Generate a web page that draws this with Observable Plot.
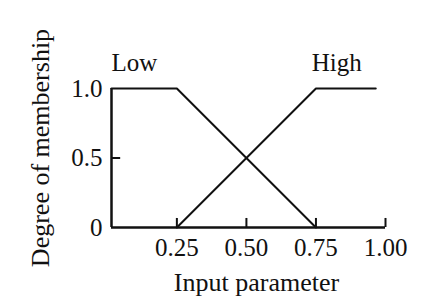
<!DOCTYPE html>
<html>
<head>
<meta charset="utf-8">
<script src="https://cdn.jsdelivr.net/npm/d3@7"></script>
<script src="https://cdn.jsdelivr.net/npm/@observablehq/plot@0.6"></script>
<style>
  html, body { margin: 0; padding: 0; background: #fff; }
</style>
</head>
<body>
<div id="chart"></div>
<script>
// Data
const lowX = [0.015, 0.25, 0.75];
const lowY = [1, 1, 0];
const highX = [0.25, 0.75, 0.965];
const highY = [0, 1, 1];
const xTicks = [0.25, 0.5, 0.75, 1.0];
const xTickLabels = ["0.25", "0.50", "0.75", "1.00"];
const yTicks = [0, 0.5, 1.0];
const yTickLabels = ["0", "0.5", "1.0"];
const seriesNames = ["Low", "High"];
const seriesLabelX = [0.015, 0.735];
const xMin = 0.015, xMax = 1.0;
const xLabel = "Input parameter";
const yLabel = "Degree of membership";

const low = lowX.map((x, i) => ({x, y: lowY[i]}));
const high = highX.map((x, i) => ({x, y: highY[i]}));
const names = seriesNames.map((n, i) => ({name: n, x: seriesLabelX[i], y: 1}));

const font = "'Liberation Serif', 'Times New Roman', serif";

const chart = Plot.plot({
  width: 446,
  height: 297,
  marginLeft: 111,
  marginRight: 61,
  marginTop: 88,
  marginBottom: 70,
  style: {fontFamily: font, fontSize: "25px", color: "#111", background: "#fff"},
  x: {domain: [xMin, xMax]},
  y: {domain: [0, 1]},
  marks: [
    Plot.axisX(xTicks, {tickSize: 0, tickPadding: 11, tickFormat: (d) => xTickLabels[xTicks.indexOf(d)], label: null, fontSize: 25}),
    Plot.axisY(yTicks, {tickSize: 0, tickPadding: 9, tickFormat: (d) => yTickLabels[yTicks.indexOf(d)], label: null, fontSize: 25}),
    // inward ticks
    Plot.ruleX(xTicks, {x: d => d, y1: 0, y2: 0.065, stroke: "#111", strokeWidth: 2}),
    Plot.ruleY([0.5], {y: d => d, x1: xMin, x2: xMin + 0.033, stroke: "#111", strokeWidth: 2}),
    // axis lines
    Plot.ruleY([0], {x1: xMin, x2: xMax, stroke: "#111", strokeWidth: 2.5}),
    Plot.ruleX([xMin], {y1: 0, y2: 1, stroke: "#111", strokeWidth: 2.5}),
    // membership functions
    Plot.line(low, {x: "x", y: "y", stroke: "#111", strokeWidth: 2}),
    Plot.line(high, {x: "x", y: "y", stroke: "#111", strokeWidth: 2}),
    Plot.text(names, {x: "x", y: "y", text: "name", textAnchor: "start", lineAnchor: "middle", dy: -26, fontSize: 25, fill: "#111"}),
    Plot.text([xLabel], {frameAnchor: "bottom", text: d => d, textAnchor: "middle", dx: 8, dy: 55, lineAnchor: "middle", fontSize: 26, fill: "#111"}),
    Plot.text([yLabel], {frameAnchor: "left", text: d => d, textAnchor: "middle", rotate: -90, dx: -71, dy: -10, lineAnchor: "middle", fontSize: 26, fill: "#111"})
  ]
});
document.getElementById("chart").appendChild(chart);
</script>
</body>
</html>
